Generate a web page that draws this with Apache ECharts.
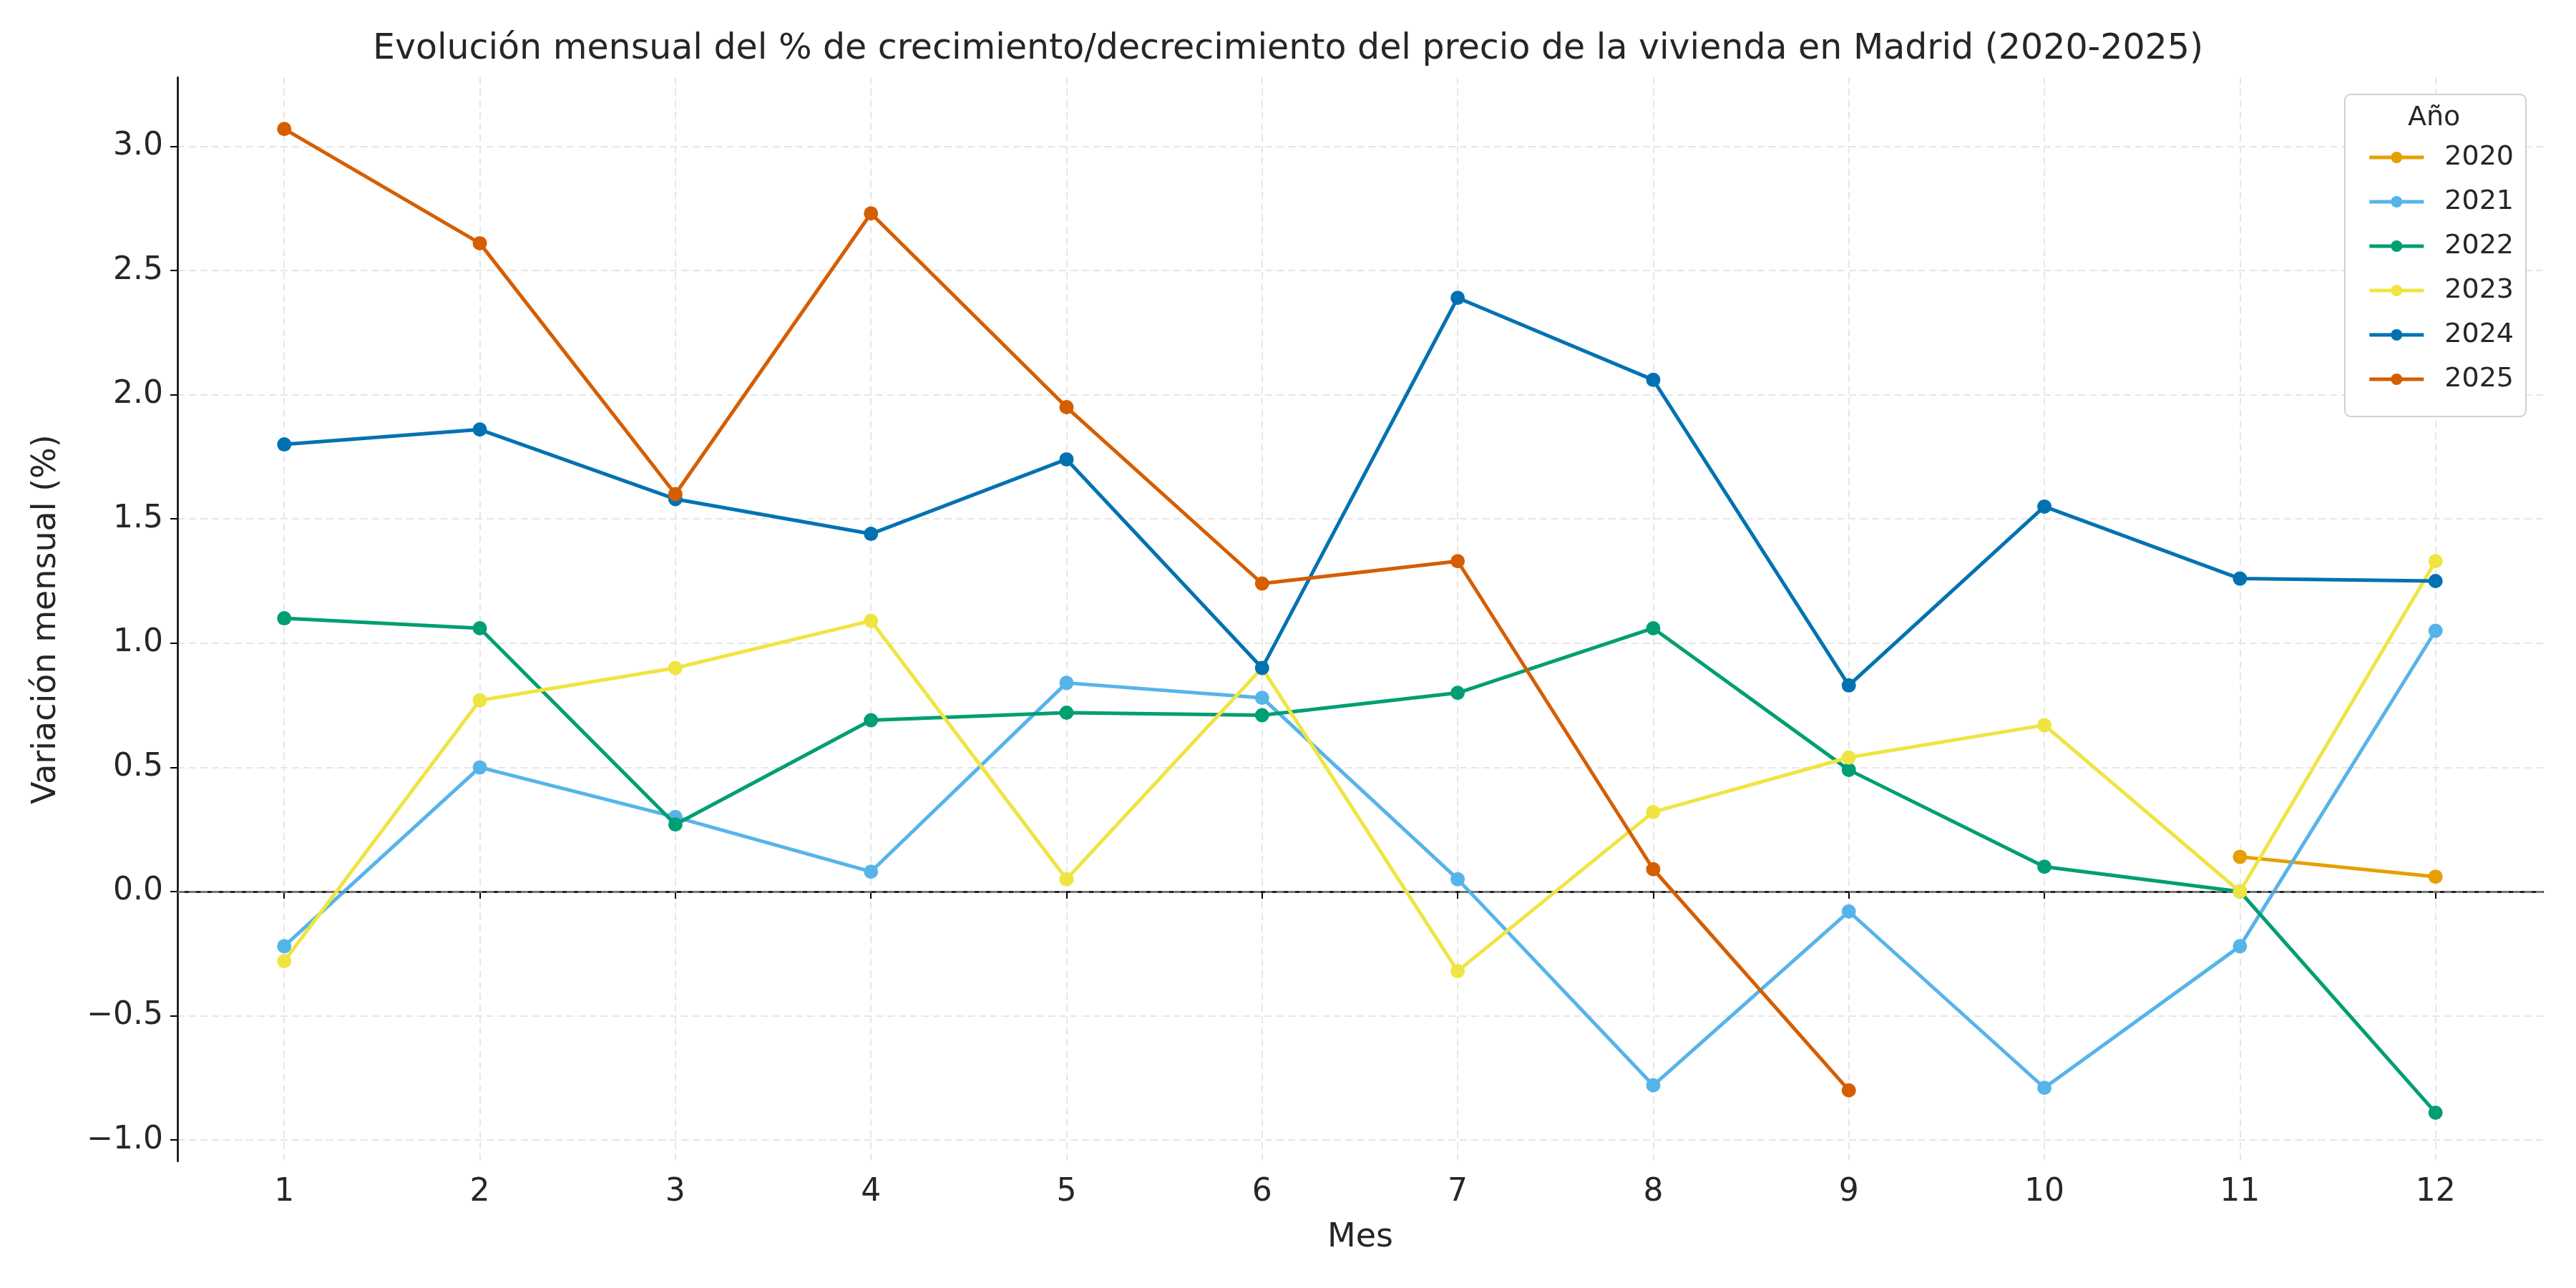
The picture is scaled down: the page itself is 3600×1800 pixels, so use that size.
<!DOCTYPE html>
<html><head><meta charset="utf-8">
<script src="https://cdn.jsdelivr.net/npm/echarts@6/dist/echarts.min.js"></script>
<style>html,body{margin:0;background:#fff}#c{width:3600px;height:1800px}</style>
</head><body><div id="c"></div>
<script>
var months = [1,2,3,4,5,6,7,8,9,10,11,12];
var yTicks = [-1.0,-0.5,0.0,0.5,1.0,1.5,2.0,2.5,3.0];
var years = ['2020','2021','2022','2023','2024','2025'];
var colors = ['#E69F00','#56B4E9','#009E73','#F0E442','#0072B2','#D55E00'];
var v2020 = [null,null,null,null,null,null,null,null,null,null,0.14,0.06];
var v2021 = [-0.22,0.50,0.30,0.08,0.84,0.78,0.05,-0.78,-0.08,-0.79,-0.22,1.05];
var v2022 = [1.10,1.06,0.27,0.69,0.72,0.71,0.80,1.06,0.49,0.10,0.00,-0.89];
var v2023 = [-0.28,0.77,0.90,1.09,0.05,0.90,-0.32,0.32,0.54,0.67,0.00,1.33];
var v2024 = [1.80,1.86,1.58,1.44,1.74,0.90,2.39,2.06,0.83,1.55,1.26,1.25];
var v2025 = [3.07,2.61,1.60,2.73,1.95,1.24,1.33,0.09,-0.80];
var allVals = [v2020,v2021,v2022,v2023,v2024,v2025];

var font = 'DejaVu Sans';
var series = years.map(function(y,i){
    var d = [];
    allVals[i].forEach(function(v,k){ if(v!==null) d.push([months[k],v]); });
    return {name:y,type:'line',data:d,color:colors[i],symbol:'circle',symbolSize:20,
        lineStyle:{width:5},z:3+i};
});
//línea de cero
series[0].markLine = {silent:true,symbol:'none',label:{show:false},
    lineStyle:{color:'#808080',type:[10,6],width:2.5},data:[{yAxis:0}]};

var chart = echarts.init(document.getElementById('c'));
chart.setOption({
    backgroundColor:'#fff',
    animation:false,
    title:{text:'Evolución mensual del % de crecimiento/decrecimiento del precio de la vivienda en Madrid (2020-2025)',
        left:'center',top:40,textStyle:{fontFamily:font,fontSize:49,fontWeight:'normal',color:'#262626'}},
    grid:{left:248,right:46,top:108,bottom:177},
    legend:{orient:'vertical',right:82,top:196,itemGap:24,itemWidth:76,itemHeight:20,
        lineStyle:{width:5},
        textStyle:{fontFamily:font,fontSize:38,color:'#262626',padding:[0,0,0,24]},data:years},
    graphic:[
        {type:'rect',right:69,top:131,shape:{width:253,height:450,r:8},
         style:{fill:'#fff',stroke:'#d0d0d0',lineWidth:2},z:1},
        {type:'text',left:3365,top:146,style:{text:'Año',fontFamily:font,fontSize:38,fill:'#262626'},z:2}
    ],
    xAxis:{type:'value',min:0.454,max:12.55,name:'Mes',nameLocation:'middle',nameGap:84,
        nameTextStyle:{fontFamily:font,fontSize:46,color:'#262626'},
        axisLine:{lineStyle:{color:'#000',width:2.5}},
        axisTick:{show:true,length:10,customValues:months,lineStyle:{color:'#000',width:2}},
        axisLabel:{customValues:months,fontFamily:font,fontSize:44,color:'#262626',margin:22},
        splitLine:{show:true,lineStyle:{color:'#e6e6e6',type:[10,6],width:2}}},
    yAxis:{type:'value',min:-1.086,max:3.278,name:'Variación mensual (%)',nameLocation:'middle',nameGap:160,
        nameTextStyle:{fontFamily:font,fontSize:46,color:'#262626'},
        axisLine:{show:true,lineStyle:{color:'#000',width:2.5}},
        axisTick:{show:true,length:10,customValues:yTicks,lineStyle:{color:'#000',width:2}},
        axisLabel:{customValues:yTicks,fontFamily:font,fontSize:44,color:'#262626',margin:20,
            formatter:function(v){return (v<0?'\u2212':'')+Math.abs(v).toFixed(1);}},
        splitLine:{show:true,lineStyle:{color:'#e6e6e6',type:[10,6],width:2}}},
    series:series
});
</script></body></html>
